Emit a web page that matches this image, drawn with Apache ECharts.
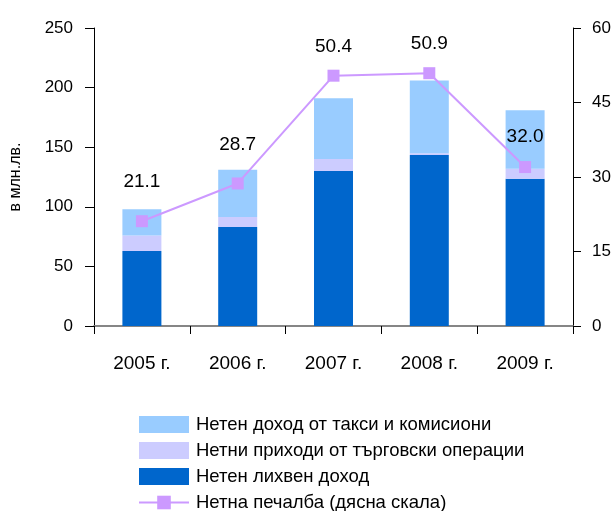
<!DOCTYPE html>
<html>
<head>
<meta charset="utf-8">
<script src="https://cdn.jsdelivr.net/npm/echarts@6/dist/echarts.min.js"></script>
<style>
    html, body { margin: 0; padding: 0; background: #fff; }
    #chart { width: 616px; height: 511px; }
</style>
</head>
<body>
<div id="chart"></div>
<script>
    // данни (млн. лв.)
    var years = ['2005 г.', '2006 г.', '2007 г.', '2008 г.', '2009 г.'];
    var interestIncome = [63, 83, 130, 143.5, 123.5];
    var tradingIncome = [13, 8.5, 10, 1.5, 8.5];
    var feeIncome = [22, 39.5, 51, 61, 49];
    var netProfit = [21.1, 28.7, 50.4, 50.9, 32.0];

    var leftTicks = [0, 50, 100, 150, 200, 250];
    var rightTicks = [0, 15, 30, 45, 60];

    var names = {
        fee: 'Нетен доход от такси и комисиони',
        trade: 'Нетни приходи от търговски операции',
        interest: 'Нетен лихвен доход',
        profit: 'Нетна печалба (дясна скала)'
    };

    // колко да се повдигне етикета над точката
    var labelLift = [24, 23, 13, 14, 15];

    var font = "'Liberation Sans', Arial, sans-serif";

    var getChart = function(container){
        var dom = document.getElementById(container);
        if(!dom){
            console.log('no container ' + container);
            return null;
        }
        return echarts.init(dom, null, {renderer: 'canvas'});
    };

    var chart = getChart('chart');

    var profitData = netProfit.map(function(v, i){
        return {value: v, label: {distance: labelLift[i]}};
    });

    var option = {
        animation: false,
        backgroundColor: '#fff',
        textStyle: {fontFamily: font},
        grid: {left: 93, right: 43, top: 28, bottom: 185, containLabel: false},
        legend: {
            orient: 'vertical',
            left: 138,
            top: 415,
            height: 120,
            padding: 0,
            itemWidth: 50,
            itemHeight: 17,
            itemGap: 7,
            textStyle: {fontFamily: font, fontSize: 18.5, color: '#000', lineHeight: 18, padding: [0, 0, 0, 2]},
            data: [
                {name: names.fee, icon: 'rect'},
                {name: names.trade, icon: 'rect'},
                {name: names.interest, icon: 'rect'},
                {name: names.profit}
            ]
        },
        xAxis: [{
            type: 'category',
            data: years,
            position: 'bottom',
            axisLine: {lineStyle: {color: '#7f7f7f', width: 1.5}},
            axisTick: {show: true, length: 8, inside: false, lineStyle: {color: '#000'}},
            axisLabel: {fontFamily: font, fontSize: 19, color: '#000', margin: 28}
        }, {
            type: 'category',
            data: years,
            position: 'top',
            axisLine: {lineStyle: {color: '#7f7f7f', width: 1.5}},
            axisTick: {show: false},
            axisLabel: {show: false}
        }],
        yAxis: [{
            type: 'value',
            min: leftTicks[0],
            max: leftTicks[leftTicks.length - 1],
            interval: 50,
            name: 'в млн.лв.',
            nameLocation: 'middle',
            nameGap: 70,
            nameRotate: 90,
            nameTextStyle: {fontFamily: font, fontSize: 16, color: '#000'},
            axisLine: {show: true, lineStyle: {color: '#000', width: 1}},
            axisTick: {show: true, length: 9, lineStyle: {color: '#000'}},
            axisLabel: {fontFamily: font, fontSize: 17, color: '#000', margin: 21},
            splitLine: {show: false}
        }, {
            type: 'value',
            position: 'right',
            min: rightTicks[0],
            max: rightTicks[rightTicks.length - 1],
            interval: 15,
            axisLine: {show: true, lineStyle: {color: '#000', width: 1}},
            axisTick: {show: true, length: 8, lineStyle: {color: '#000'}},
            axisLabel: {fontFamily: font, fontSize: 17, color: '#000', margin: 19},
            splitLine: {show: false}
        }],
        series: [{
            name: names.interest,
            type: 'bar',
            stack: 'total',
            barWidth: 39,
            itemStyle: {color: '#0066cc'},
            data: interestIncome
        }, {
            name: names.trade,
            type: 'bar',
            stack: 'total',
            barWidth: 39,
            itemStyle: {color: '#ccccff'},
            data: tradingIncome
        }, {
            name: names.fee,
            type: 'bar',
            stack: 'total',
            barWidth: 39,
            itemStyle: {color: '#99ccff'},
            data: feeIncome
        }, {
            name: names.profit,
            type: 'line',
            yAxisIndex: 1,
            symbol: 'rect',
            symbolSize: 12,
            lineStyle: {color: '#cc99ff', width: 2},
            itemStyle: {color: '#cc99ff'},
            label: {
                show: true,
                position: 'top',
                fontFamily: font,
                fontSize: 19,
                color: '#000',
                formatter: function(p){ return p.value.toFixed(1); }
            },
            z: 5,
            data: profitData
        }]
    };

    chart.setOption(option);
</script>
</body>
</html>
